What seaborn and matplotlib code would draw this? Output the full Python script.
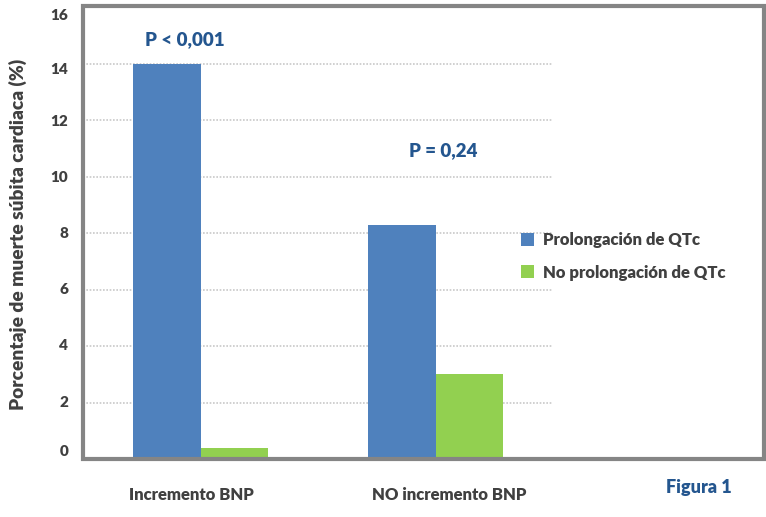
import matplotlib
matplotlib.use("Agg")
import matplotlib.pyplot as plt
import matplotlib.transforms as mtransforms
import seaborn as sns
import pandas as pd
from matplotlib.patches import Rectangle

categories = ["Incremento BNP", "NO incremento BNP"]
series_names = ["Prolongación de QTc", "No prolongación de QTc"]
prolongacion = [14.0, 8.3]
no_prolongacion = [0.4, 3.0]
y_ticks = [0, 2, 4, 6, 8, 10, 12, 14, 16]
p_labels = ["P < 0,001", "P = 0,24"]
p_heights = [14.85, 10.9]

df = pd.DataFrame({
    "cat": categories * 2,
    "serie": [series_names[0]] * 2 + [series_names[1]] * 2,
    "val": prolongacion + no_prolongacion,
})

sns.set_style("white")
plt.rcParams["font.family"] = ["Lato", "DejaVu Sans"]
WT = "heavy"

W, H = 766, 517
fig = plt.figure(figsize=(W / 100, H / 100), dpi=100)
x0, x1, y0, y1 = 83, 553, 459, 7
ax = fig.add_axes([x0 / W, 1 - y0 / H, (x1 - x0) / W, (y0 - y1) / H])

palette = {series_names[0]: "#4F81BD", series_names[1]: "#92D050"}
sns.barplot(data=df, x="cat", y="val", hue="serie", palette=palette,
            width=0.575, saturation=1, ax=ax, legend=True, linewidth=0, zorder=3)

ax.set_ylim(0, 16)
ax.set_xlim(-0.5, 1.5)
ax.set_yticks(y_ticks)
ax.set_yticklabels([])
for sp in ax.spines.values():
    sp.set_visible(False)
ax.tick_params(axis="y", length=0)
# tick labels drawn as text with small vertical nudges (pixels, downward)
nudges = [-7, 0, 0, 0, 1, 1, 2, 6, 8]
for t, dy in zip(y_ticks, nudges):
    tr = mtransforms.blended_transform_factory(ax.transAxes, ax.transData) + \
        mtransforms.ScaledTranslation(-15 / 100, -dy / 100, fig.dpi_scale_trans)
    ax.text(0, t, str(t), transform=tr, ha="right", va="center", fontsize=11,
            fontweight=WT, color="#404040")
ax.set_xticks([])
ax.set_xlabel("")
for xc, lab in zip([191, 449], categories):
    fig.text(xc / W, 1 - 495 / H, lab, ha="center", va="center", fontsize=12,
             fontweight=WT, color="#404040")
ax.set_ylabel("Porcentaje de muerte súbita cardiaca (%)", fontsize=13.8, fontweight=WT,
              color="#404040")
ax.yaxis.set_label_coords(-56 / (x1 - x0), 0.496)
ax.yaxis.grid(True, color="#c8c8c8", linestyle=(0, (1, 1)), linewidth=1.2, zorder=0)
ax.set_axisbelow(True)

for i, (txt, h, dx) in enumerate(zip(p_labels, p_heights, [-0.066, 0.032])):
    ax.text(i + dx, h, txt, ha="center", va="center", fontsize=13.5, fontweight=WT, color="#24568F")

leg = ax.legend(loc="upper left", bbox_to_anchor=(506 / W, 1 - 217 / H), bbox_transform=fig.transFigure,
                frameon=False, fontsize=12, handlelength=0.8, handleheight=0.8, handletextpad=0.5,
                labelspacing=1.0)
for t in leg.get_texts():
    t.set_fontweight(WT)
    t.set_color("#404040")

# outer frame
fig.patches.append(Rectangle((x0 / W, 1 - y0 / H), (764 - x0) / W, (y0 - 6) / H,
                             transform=fig.transFigure, fill=False, edgecolor="#858585",
                             linewidth=3, zorder=10))

fig.text(699 / W, 1 - 488 / H, "Figura 1", ha="center", va="center", fontsize=13,
         fontweight=WT, color="#24568F")

fig.savefig("out.png", dpi=100)
